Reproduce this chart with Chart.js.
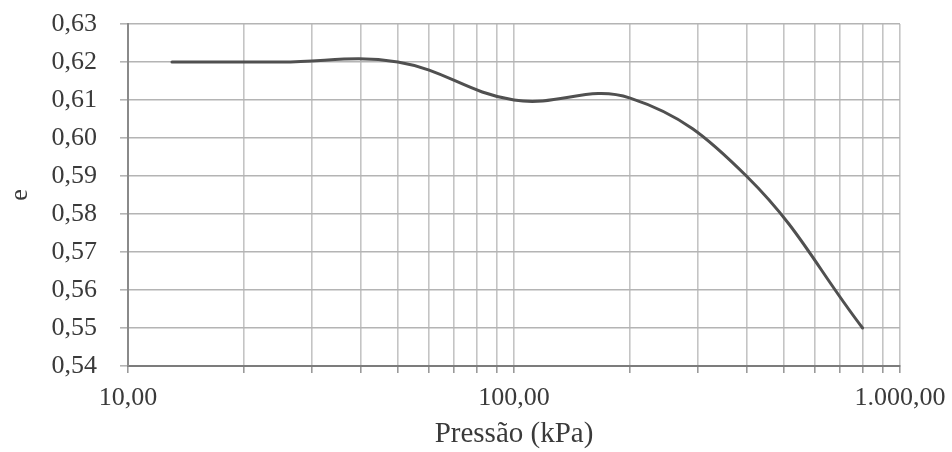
<!DOCTYPE html>
<html>
<head>
<meta charset="utf-8">
<script src="https://cdn.jsdelivr.net/npm/chart.js@4"></script>
<style>
  html, body { margin: 0; padding: 0; background: #ffffff; }
  #wrap { width: 952px; height: 452px; }
</style>
</head>
<body>
<div id="wrap"><canvas id="c" width="952" height="452"></canvas></div>
<script>
// Oedometer test: void ratio e versus applied pressure (log scale)
const pressure = [13, 25, 50, 100, 200, 400, 800];          // kPa
const voidRatio = [0.620, 0.620, 0.620, 0.610, 0.6105, 0.590, 0.550];

// Axis ticks
const yTickValues = [0.54, 0.55, 0.56, 0.57, 0.58, 0.59, 0.60, 0.61, 0.62, 0.63];
const xGridValues = [10, 20, 30, 40, 50, 60, 70, 80, 90,
                     100, 200, 300, 400, 500, 600, 700, 800, 900, 1000];
const xTickLabels = { 10: '10,00', 100: '100,00', 1000: '1.000,00' };

const serif = "'Liberation Serif', 'Times New Roman', serif";
const textColor = '#3a3a3a';

new Chart(document.getElementById('c'), {
  type: 'line',
  data: {
    datasets: [{
      data: pressure.map((p, i) => ({ x: p, y: voidRatio[i] })),
      borderColor: '#505050',
      borderWidth: 3,
      pointRadius: 0,
      fill: false,
      tension: 0.4,
      borderCapStyle: 'round'
    }]
  },
  options: {
    responsive: false,
    animation: false,
    devicePixelRatio: 1,
    layout: { padding: { top: 24, right: 52, left: 0, bottom: 0 } },
    plugins: { legend: { display: false }, tooltip: { enabled: false } },
    scales: {
      x: {
        type: 'logarithmic',
        min: 10,
        max: 1000,
        afterBuildTicks: (scale) => { scale.ticks = xGridValues.map(v => ({ value: v })); },
        afterFit: (scale) => {
          scale.height = 86;
          scale.paddingLeft = 0;
          scale.paddingRight = 0;
        },
        ticks: {
          autoSkip: false,
          maxRotation: 0,
          padding: 10,
          color: textColor,
          font: { family: serif, size: 26 },
          callback: (v) => xTickLabels[v] || ''
        },
        grid: {
          color: '#c4c4c4',
          lineWidth: 1.6,
          tickLength: 7,
          tickColor: '#9a9a9a'
        },
        border: { color: '#7c7c7c', width: 2 },
        title: {
          display: true,
          text: 'Pressão (kPa)',
          color: textColor,
          font: { family: serif, size: 29 },
          padding: { top: 0, bottom: 0 }
        }
      },
      y: {
        min: 0.54,
        max: 0.63,
        afterBuildTicks: (scale) => { scale.ticks = yTickValues.map(v => ({ value: v })); },
        afterFit: (scale) => {
          scale.width = 128;
          scale.paddingTop = 0;
          scale.paddingBottom = 0;
        },
        ticks: {
          padding: 23,
          color: textColor,
          font: { family: serif, size: 26 },
          callback: (v) => v.toFixed(2).replace('.', ',')
        },
        grid: {
          color: '#b4b4b4',
          lineWidth: 1.6,
          tickLength: 8,
          tickColor: '#b4b4b4'
        },
        border: { color: '#8a8a8a', width: 2 },
        title: {
          display: true,
          text: 'e',
          color: textColor,
          font: { family: serif, size: 26 },
          padding: { top: 5, bottom: 0 }
        }
      }
    }
  }
});
</script>
</body>
</html>
